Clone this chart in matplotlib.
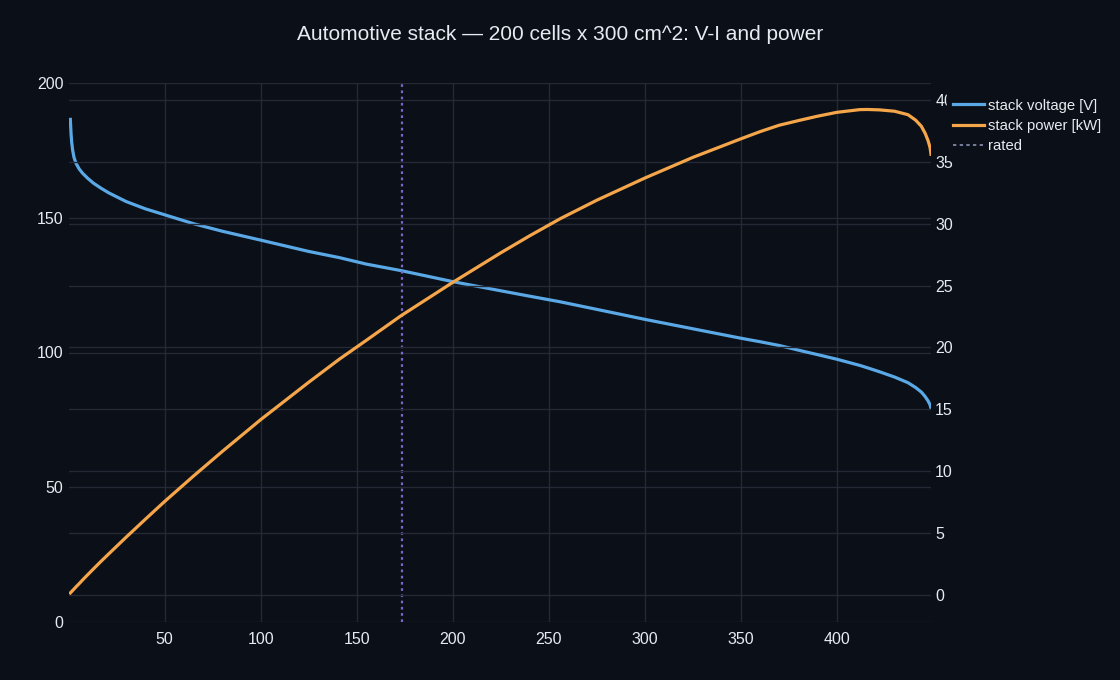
import matplotlib
matplotlib.use("Agg")
import matplotlib.pyplot as plt
from matplotlib.lines import Line2D

# stack current [A]
current = [0.9, 1.25, 1.6, 2.1, 2.8, 3.85, 5.5, 7.3, 10, 13, 17, 21, 30, 40, 50, 65, 80, 100,
           125, 141, 155, 173, 200, 225, 240, 256, 275, 300, 325, 350, 360, 370, 381, 390, 400,
           412, 416, 422, 430, 437, 441, 444, 446, 447.5, 448.5, 449]
# stack voltage [V]
voltage = [186.5, 181.4, 178.0, 175.1, 172.4, 170.2, 168.1, 166.5, 164.6, 162.8, 160.9, 159.2,
           156.0, 153.3, 151.1, 147.8, 145.0, 141.7, 137.5, 135.2, 132.8, 130.4, 126.3, 122.9,
           120.9, 118.8, 116.0, 112.3, 108.8, 105.3, 104.0, 102.6, 100.7, 99.2, 97.5, 95.2, 94.3,
           92.9, 90.9, 88.8, 87.0, 85.3, 83.6, 82.0, 80.6, 79.3]
# stack power [kW]
power = [0.17, 0.23, 0.28, 0.37, 0.48, 0.66, 0.92, 1.22, 1.65, 2.12, 2.74, 3.34, 4.68, 6.13,
         7.56, 9.61, 11.60, 14.17, 17.19, 19.06, 20.58, 22.56, 25.26, 27.65, 29.02, 30.41,
         31.90, 33.69, 35.36, 36.86, 37.44, 37.96, 38.37, 38.69, 39.00, 39.22, 39.23, 39.20,
         39.09, 38.81, 38.37, 37.87, 37.29, 36.70, 36.15, 35.61]
rated_current = 173.4

bg = '#0b0f17'
grid = '#242935'
txt = '#e6ebf2'
blue = '#5aa9e6'
orange = '#f5a54a'

plt.rcParams['font.family'] = ['Liberation Sans', 'DejaVu Sans']

fig = plt.figure(figsize=(11.2, 6.8), dpi=100, facecolor=bg)
ax = fig.add_axes([69 / 1120, 58 / 680, 862 / 1120, 539 / 680])
ax.set_facecolor(bg)
ax2 = ax.twinx()

ax.plot(current, voltage, color=blue, lw=2.3, zorder=3)
ax2.plot(current, power, color=orange, lw=2.3, zorder=3)
ax.axvline(rated_current, color='#7d66c9', lw=1.6, ls=(0, (1.2, 1.6)), zorder=4)

ax.set_xlim(0.2, 449)
ax.set_ylim(0, 200)
ax2.set_ylim(-2.18, 41.37)
ax.set_xticks([50, 100, 150, 200, 250, 300, 350, 400])
ax.set_yticks([0, 50, 100, 150, 200])
ax2.set_yticks([0, 5, 10, 15, 20, 25, 30, 35, 40])

for a in (ax, ax2):
    for s in a.spines.values():
        s.set_visible(False)
    a.grid(True, color=grid, lw=1)
    a.set_axisbelow(True)
    a.tick_params(length=0, labelsize=11.5, colors=txt)
ax2.grid(True, axis='y', color=grid, lw=1)
ax2.grid(False, axis='x')
ax.tick_params(axis='y', pad=4)
ax.tick_params(axis='x', pad=7)
ax2.tick_params(axis='y', pad=3)

fig.text(0.5, 1 - 35 / 680, 'Automotive stack \u2014 200 cells x 300 cm^2: V-I and power',
         ha='center', va='center', color=txt, fontsize=15)

handles = [Line2D([], [], color=blue, lw=2.3),
           Line2D([], [], color=orange, lw=2.3),
           Line2D([], [], color='#8b93b5', lw=1.2, ls=(0, (2, 2)))]
labels = ['stack voltage [V]', 'stack power [kW]', 'rated']
leg = fig.legend(handles, labels, loc='upper left', bbox_to_anchor=(940 / 1120, 1 - 86 / 680),
                 frameon=True, facecolor=bg, edgecolor=bg, framealpha=1, fontsize=10.7,
                 labelcolor=txt, borderpad=0.35, handlelength=2.1, handletextpad=0.3,
                 labelspacing=0.42, fancybox=False)

fig.savefig('out.png', dpi=100, facecolor=bg)
